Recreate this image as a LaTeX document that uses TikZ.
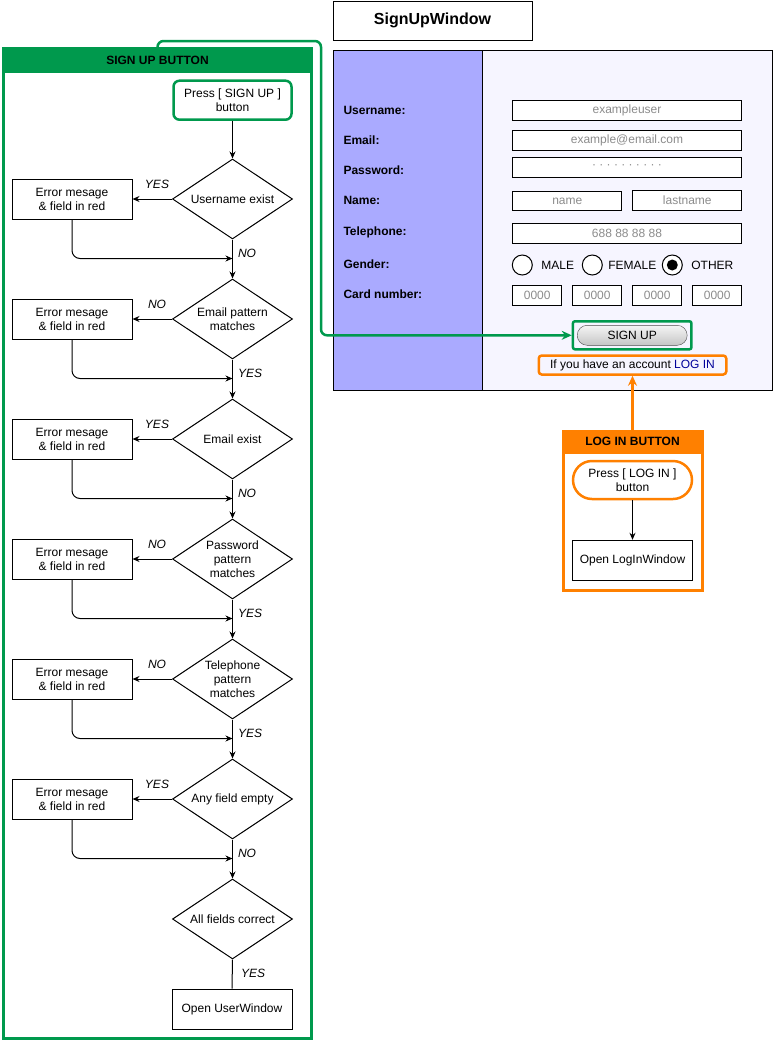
\documentclass[tikz,border=0pt]{standalone}
\usepackage{fontspec}
\setmainfont{Liberation Sans}
\usetikzlibrary{shapes.geometric,arrows.meta,positioning}

\definecolor{sgreen}{RGB}{0,153,77}
\definecolor{lorange}{RGB}{255,128,0}
\definecolor{panelblue}{RGB}{170,170,255}
\definecolor{panelwhite}{RGB}{246,245,255}
\definecolor{hintgray}{RGB}{140,140,140}
\definecolor{linkblue}{RGB}{0,0,153}

\begin{document}
\begin{tikzpicture}[x=1pt,y=-1pt,
  every node/.style={font=\fontsize{12}{14}\selectfont},
  proc/.style={draw, line width=1pt, fill=white, minimum width=120pt, minimum height=40pt, align=center, inner sep=1pt},
  decision/.style={draw, diamond, line width=1pt, fill=white, aspect=1.5, minimum width=120pt, minimum height=80pt, inner sep=0pt, align=center},
  flow/.style={line width=1pt, -{Stealth[length=7pt,width=6pt]}},
  answer/.style={font=\fontsize{12}{14}\selectfont\itshape},
  field/.style={draw, line width=1pt, fill=white, minimum height=19.5pt, inner sep=0pt, text=hintgray},
  formlabel/.style={anchor=west, font=\fontsize{12}{14}\selectfont\bfseries},
  radio/.style={draw, circle, line width=1pt, fill=white, minimum size=20pt, inner sep=0pt},
  head/.style={anchor=north, line width=3pt, inner sep=0pt, font=\fontsize{12}{14}\selectfont\bfseries}]
\useasboundingbox (0,0) rectangle (773,1042);

% sign up window
\node[draw, line width=1pt, minimum width=199pt, minimum height=39pt, font=\fontsize{16}{19}\selectfont\bfseries] (title) at (432.5,20.5) {SignUpWindow};
\filldraw[fill=panelwhite, line width=1pt] (333,50) rectangle (772,390);
\filldraw[fill=panelblue, line width=1pt] (333,50) rectangle (482,390);

\node[formlabel] (lbluser) at (340,110) {Username:};
\node[formlabel] (lblmail) at (340,140) {Email:};
\node[formlabel] (lblpass) at (340,170) {Password:};
\node[formlabel] (lblname) at (340,200) {Name:};
\node[formlabel] (lbltel) at (340,232) {Telephone:};
\node[formlabel] (lblgender) at (340,264.5) {Gender:};
\node[formlabel] (lblcard) at (340,294.5) {Card number:};

\node[field, minimum width=229pt] (userfield) at (627,110.3) {exampleuser};
\node[field, minimum width=229pt] (mailfield) at (627,140.3) {example@email.com};
\node[field, minimum width=229pt] (passfield) at (627,167.7) {\raisebox{2pt}{· · · · · · · · · ·}};
\node[field, minimum width=109pt] (namefield) at (567.3,201) {name};
\node[field, minimum width=109pt] (lastfield) at (687.3,200.5) {lastname};
\node[field, minimum width=229pt] (telfield) at (627,233.7) {688 88 88 88};
\node[field, minimum width=49pt] (card1) at (537.2,295.7) {0000};
\node[field, minimum width=49pt] (card2) at (597.2,295.7) {0000};
\node[field, minimum width=49pt] (card3) at (657.2,295.7) {0000};
\node[field, minimum width=49pt] (card4) at (717.2,295.7) {0000};

\node[radio] (male) at (522.3,265) {};
\node[right=5pt of male] (malelbl) {MALE};
\node[radio] (female) at (592.3,265) {};
\node[right=2pt of female] (femalelbl) {FEMALE};
\node[radio] (other) at (672.3,265) {};
\node[right=5pt of other] (otherlbl) {OTHER};
\fill (other) circle (5.5);

\node[draw=sgreen, line width=2.5pt, rounded corners=2pt, minimum width=118.5pt, minimum height=28pt] (signhl) at (632.2,335.3) {};
\node[draw=gray!60!black, top color=gray!8, bottom color=gray!45, rounded corners=10pt, minimum width=110pt, minimum height=20pt, inner sep=0pt] (signbtn) at (632.2,335.3) {SIGN UP};
\node[draw=lorange, line width=2.5pt, rounded corners=3pt, minimum width=187.5pt, minimum height=19pt, inner sep=0pt] (loghl) at (632.5,365) {If you have an account \textcolor{linkblue}{LOG IN}};

% log in button
\node[draw=lorange, line width=3pt, minimum width=139pt, minimum height=159pt] (logbox) at (632.5,510.5) {};
\node[head, fill=lorange, draw=lorange, minimum width=139pt, minimum height=21pt] (loghead) at (logbox.north) {LOG IN BUTTON};
\node[draw=lorange, line width=2.5pt, fill=white, rounded corners=19pt, minimum width=119pt, minimum height=38pt, align=center] (pressin) at (632.5,480) {Press [ LOG IN ]\\button};
\node[proc] (openlogin) at (632.5,560.3) {Open LogInWindow};
\draw[flow] (pressin.south) -- (openlogin.north);
\draw[lorange, line width=2.5pt, -{Stealth[length=10pt,width=9pt]}] (loghead.north) -- (loghl.south);

% sign up button
\node[draw=sgreen, line width=3pt, minimum width=308pt, minimum height=990pt] (signbox) at (157.5,543.5) {};
\node[head, fill=sgreen, draw=sgreen, minimum width=308pt, minimum height=23pt] (signhead) at (signbox.north) {SIGN UP BUTTON};

\node[draw=sgreen, line width=2.5pt, rounded corners=6pt, minimum width=118pt, minimum height=39pt, align=center] (pressup) at (232.5,100.2) {Press [ SIGN UP ]\\button};

\node[decision] (d1) at (232.5,199) {Username exist};
\node[decision] (d2) at (232.5,319) {Email pattern\\matches};
\node[decision] (d3) at (232.5,439) {Email exist};
\node[decision] (d4) at (232.5,559) {Password\\pattern\\matches};
\node[decision] (d5) at (232.5,679) {Telephone\\pattern\\matches};
\node[decision] (d6) at (232.5,799) {Any field empty};
\node[decision] (d7) at (232.5,919) {All fields correct};

\node[proc] (e1) at (72,199) {Error mesage\\\& field in red};
\node[proc] (e2) at (72,319) {Error mesage\\\& field in red};
\node[proc] (e3) at (72,439) {Error mesage\\\& field in red};
\node[proc] (e4) at (72,559) {Error mesage\\\& field in red};
\node[proc] (e5) at (72,679) {Error mesage\\\& field in red};
\node[proc] (e6) at (72,799) {Error mesage\\\& field in red};
\node[proc] (openuser) at (232,1009) {Open UserWindow};

\draw[flow] (pressup.south) -- (d1.north);
\draw[flow] (d1.west) -- (e1.east);
\draw[flow] (d2.west) -- (e2.east);
\draw[flow] (d3.west) -- (e3.east);
\draw[flow] (d4.west) -- (e4.east);
\draw[flow] (d5.west) -- (e5.east);
\draw[flow] (d6.west) -- (e6.east);
\draw[flow] (d1.south) -- (d2.north);
\draw[flow] (d2.south) -- (d3.north);
\draw[flow] (d3.south) -- (d4.north);
\draw[flow] (d4.south) -- (d5.north);
\draw[flow] (d5.south) -- (d6.north);
\draw[flow] (d6.south) -- (d7.north);
\draw[line width=1pt] (d7.south) -- (openuser.north);
\draw[flow, rounded corners=8pt] (e1.south) |- ([yshift=-19pt]d1.south);
\draw[flow, rounded corners=8pt] (e2.south) |- ([yshift=-19pt]d2.south);
\draw[flow, rounded corners=8pt] (e3.south) |- ([yshift=-19pt]d3.south);
\draw[flow, rounded corners=8pt] (e4.south) |- ([yshift=-19pt]d4.south);
\draw[flow, rounded corners=8pt] (e5.south) |- ([yshift=-19pt]d5.south);
\draw[flow, rounded corners=8pt] (e6.south) |- ([yshift=-19pt]d6.south);

\node[answer] (a1) at ([xshift=-15pt,yshift=15pt]d1.west) {YES};
\node[answer] (a2) at ([xshift=-15pt,yshift=15pt]d2.west) {NO};
\node[answer] (a3) at ([xshift=-15pt,yshift=15pt]d3.west) {YES};
\node[answer] (a4) at ([xshift=-15pt,yshift=15pt]d4.west) {NO};
\node[answer] (a5) at ([xshift=-15pt,yshift=15pt]d5.west) {NO};
\node[answer] (a6) at ([xshift=-15pt,yshift=15pt]d6.west) {YES};
\node[answer, anchor=west] (b1) at ([xshift=2pt,yshift=-14pt]d1.south) {NO};
\node[answer, anchor=west] (b2) at ([xshift=2pt,yshift=-14pt]d2.south) {YES};
\node[answer, anchor=west] (b3) at ([xshift=2pt,yshift=-14pt]d3.south) {NO};
\node[answer, anchor=west] (b4) at ([xshift=2pt,yshift=-14pt]d4.south) {YES};
\node[answer, anchor=west] (b5) at ([xshift=2pt,yshift=-14pt]d5.south) {YES};
\node[answer, anchor=west] (b6) at ([xshift=2pt,yshift=-14pt]d6.south) {NO};
\node[answer, anchor=west] (b7) at ([xshift=5pt,yshift=-14pt]d7.south) {YES};

% link from the sign up flow to the button
\coordinate (gbend) at (321,41);
\draw[sgreen, line width=2.5pt, rounded corners=6pt, -{Stealth[length=10pt,width=9pt]}] (signbox.north) |- (gbend) |- (signhl.west);
\end{tikzpicture}
\end{document}
